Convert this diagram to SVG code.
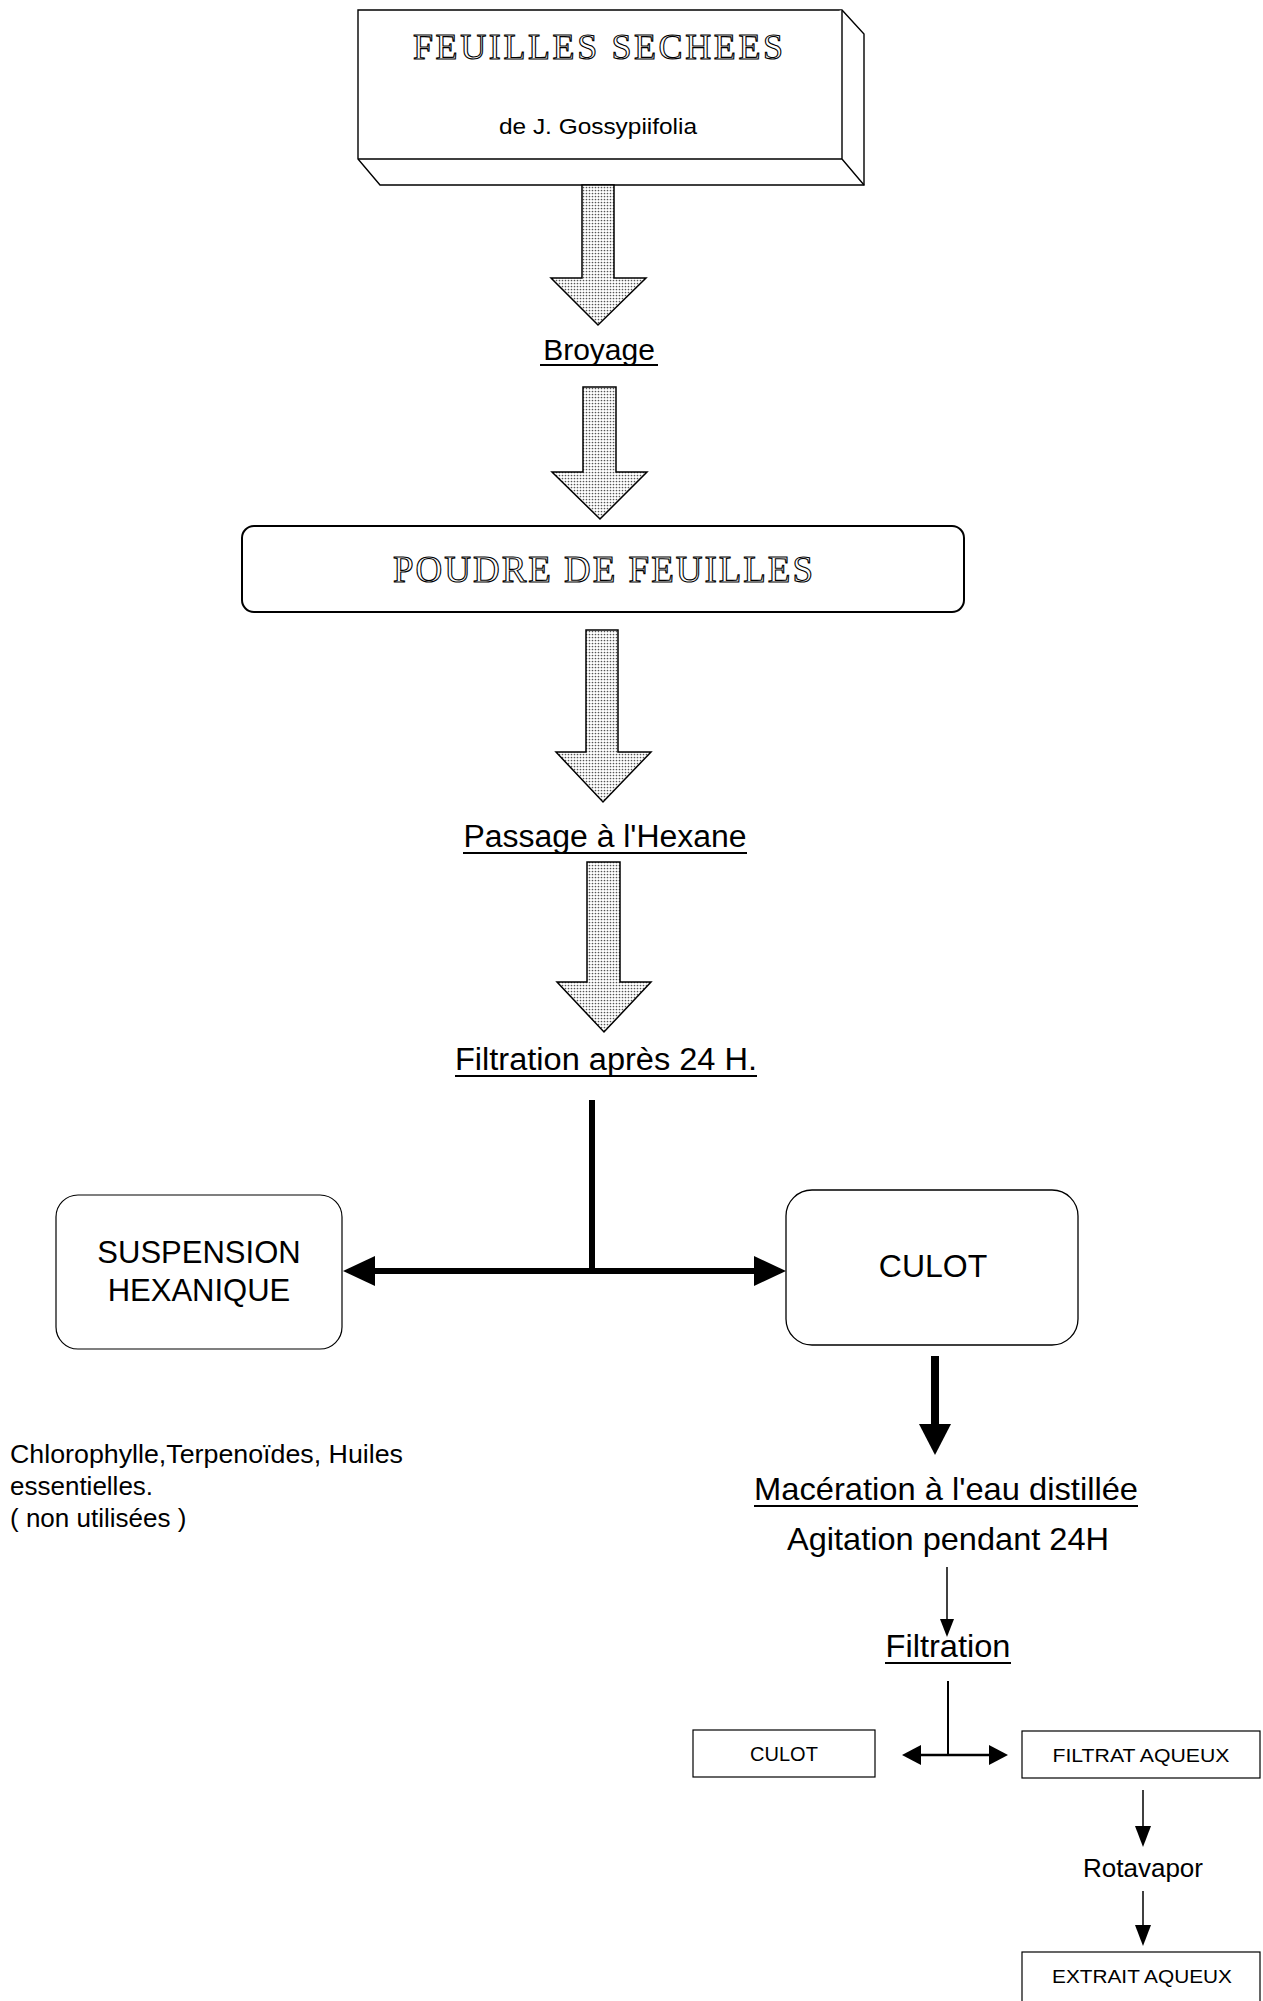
<svg xmlns="http://www.w3.org/2000/svg" width="1263" height="2001" viewBox="0 0 1263 2001">
<defs>
<pattern id="stip" width="3" height="3" patternUnits="userSpaceOnUse">
<rect width="3" height="3" fill="#fff"/>
<circle cx="1.5" cy="1.5" r="0.85" fill="#555"/>
</pattern>
</defs>
<style>
.box{fill:#fff;stroke:#000;stroke-width:1.4}
.eng{font-family:"Liberation Serif",serif;fill:#fff;stroke:#000;stroke-width:1.1;text-anchor:middle}
.sans{font-family:"Liberation Sans",Arial,sans-serif;fill:#000;text-anchor:middle}
.big{fill:url(#stip);stroke:#000;stroke-width:1.5;stroke-linejoin:miter}
.ul{stroke:#000;stroke-width:1.8}
.thick{stroke:#000;fill:none}
.head{fill:#000;stroke:none}
.thin{stroke:#000;stroke-width:1.5;fill:none}
</style>
<rect width="1263" height="2001" fill="#fff"/>

<g id="node-feuilles-sechees">
<path class="box" d="M358,10 L842,10 L864,34 L864,185 L380,185 L358,159 Z"/>
<path class="box" d="M358,159 L842,159 L842,10 M842,159 L864,185"/>
<text class="eng" x="598" y="59" font-size="36" textLength="370" lengthAdjust="spacing">FEUILLES SECHEES</text>
<text class="sans" x="598" y="134" font-size="22" textLength="198" lengthAdjust="spacingAndGlyphs">de J. Gossypiifolia</text>
</g>

<g id="label-broyage">
<text class="sans" x="599" y="360" font-size="30">Broyage</text>
<line class="ul" x1="540" y1="365" x2="658" y2="365"/>
</g>

<g id="node-poudre">
<rect class="box" x="242" y="526" width="722" height="86" rx="12" ry="12" style="stroke-width:2"/>
<text class="eng" x="603" y="582" font-size="37" textLength="420" lengthAdjust="spacing">POUDRE DE FEUILLES</text>
</g>

<g id="label-passage">
<text class="sans" x="605" y="847" font-size="31" textLength="283" lengthAdjust="spacingAndGlyphs">Passage à l'Hexane</text>
<line class="ul" x1="463" y1="853" x2="747" y2="853"/>
</g>

<g id="label-filtration1">
<text class="sans" x="606" y="1070" font-size="31" textLength="302" lengthAdjust="spacingAndGlyphs">Filtration après 24 H.</text>
<line class="ul" x1="455" y1="1076" x2="757" y2="1076"/>
</g>

<g id="node-suspension">
<rect class="box" x="56" y="1195" width="286" height="154" rx="22" ry="22" style="stroke-width:1.2"/>
<text class="sans" x="199" y="1263" font-size="31">SUSPENSION</text>
<text class="sans" x="199" y="1301" font-size="31">HEXANIQUE</text>
</g>

<g id="node-culot1">
<rect class="box" x="786" y="1190" width="292" height="155" rx="26" ry="26" style="stroke-width:1.3"/>
<text class="sans" x="933" y="1277" font-size="32">CULOT</text>
</g>

<g id="note-hexane">
<text class="sans" x="10" y="1463" font-size="26" style="text-anchor:start" textLength="393" lengthAdjust="spacingAndGlyphs">Chlorophylle,Terpenoïdes, Huiles</text>
<text class="sans" x="10" y="1495" font-size="26" style="text-anchor:start">essentielles.</text>
<text class="sans" x="10" y="1527" font-size="26" style="text-anchor:start">( non utilisées )</text>
</g>

<g id="label-maceration">
<text class="sans" x="946" y="1500" font-size="32" textLength="384" lengthAdjust="spacingAndGlyphs">Macération à l'eau distillée</text>
<line class="ul" x1="754" y1="1506" x2="1138" y2="1506"/>
<text class="sans" x="948" y="1550" font-size="32" textLength="322" lengthAdjust="spacingAndGlyphs">Agitation pendant 24H</text>
</g>

<g id="label-filtration2">
<text class="sans" x="948" y="1657" font-size="32" textLength="125" lengthAdjust="spacingAndGlyphs">Filtration</text>
<line class="ul" x1="885" y1="1663" x2="1011" y2="1663"/>
</g>

<g id="node-culot2">
<rect class="box" x="693" y="1730" width="182" height="47" style="stroke-width:1.2"/>
<text class="sans" x="784" y="1761" font-size="20">CULOT</text>
</g>

<g id="node-filtrat">
<rect class="box" x="1022" y="1731" width="238" height="47" style="stroke-width:1.2"/>
<text class="sans" x="1141" y="1762" font-size="19" textLength="177" lengthAdjust="spacingAndGlyphs">FILTRAT AQUEUX</text>
</g>

<g id="label-rotavapor">
<text class="sans" x="1143" y="1877" font-size="26">Rotavapor</text>
</g>

<g id="node-extrait">
<rect class="box" x="1022" y="1952" width="238" height="60" style="stroke-width:1.2"/>
<text class="sans" x="1142" y="1983" font-size="19" textLength="180" lengthAdjust="spacingAndGlyphs">EXTRAIT AQUEUX</text>
</g>

<g id="connectors">
<polygon class="big" points="582,185 614,185 614,278 646,278 598,325 551,278 582,278"/>
<polygon class="big" points="583,387 616,387 616,472 647,472 600,519 552,472 583,472"/>
<polygon class="big" points="586,630 618,630 618,752 651,752 603,802 556,752 586,752"/>
<polygon class="big" points="587,862 620,862 620,982 651,982 604,1032 557,982 587,982"/>

<line class="thick" x1="592" y1="1100" x2="592" y2="1274" stroke-width="6"/>
<line class="thick" x1="370" y1="1271" x2="760" y2="1271" stroke-width="6"/>
<polygon class="head" points="343,1271 375,1256 375,1286"/>
<polygon class="head" points="786,1271 754,1256 754,1286"/>

<line class="thick" x1="935" y1="1356" x2="935" y2="1428" stroke-width="8"/>
<polygon class="head" points="919,1424 951,1424 935,1455"/>

<line class="thin" x1="947" y1="1567" x2="947" y2="1624"/>
<polygon class="head" points="940,1619 954,1619 947,1637"/>

<line class="thick" x1="948" y1="1681" x2="948" y2="1755" stroke-width="2"/>
<line class="thick" x1="915" y1="1755" x2="995" y2="1755" stroke-width="2.5"/>
<polygon class="head" points="902,1755 921,1745 921,1765"/>
<polygon class="head" points="1008,1755 989,1745 989,1765"/>

<line class="thin" x1="1143" y1="1790" x2="1143" y2="1830"/>
<polygon class="head" points="1135,1826 1151,1826 1143,1847"/>
<line class="thin" x1="1143" y1="1891" x2="1143" y2="1929"/>
<polygon class="head" points="1135,1925 1151,1925 1143,1946"/>
</g>
</svg>
